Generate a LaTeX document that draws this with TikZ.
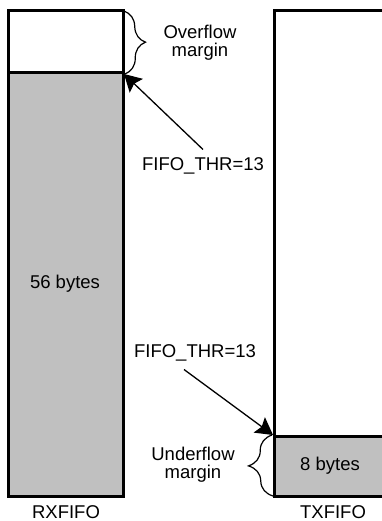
\documentclass[tikz,border=0pt]{standalone}
\usepackage{fontspec}
\setmainfont{Liberation Sans}
\usetikzlibrary{arrows.meta,decorations.pathreplacing}
\definecolor{fifogray}{RGB}{192,192,192}
\begin{document}
\begin{tikzpicture}[x=1pt,y=1pt,
  fifo/.style={draw=black,line width=3pt},
  lbl/.style={font=\fontsize{18.5}{18}\selectfont, align=center, inner sep=0pt},
  ptr/.style={line width=1.3pt,-{Stealth[length=17pt,width=19pt,inset=3pt]}},
  brc/.style={line width=1.2pt,decorate,decoration={brace,amplitude=21pt}}]
\useasboundingbox (0,0) rectangle (382,-521);
\fill[white] (0,0) rectangle (382,-521);
\begin{scope}
\clip (0,0) rectangle (382,-521);
% RXFIFO
\filldraw[fifo, fill=white] (8,-11) rectangle (123,-73);
\filldraw[fifo, fill=fifogray] (8,-73) rectangle (123,-496);
% TXFIFO
\filldraw[fifo, fill=white] (274,-11) rectangle (392,-436);
\filldraw[fifo, fill=fifogray] (274,-436) rectangle (392,-496);
\end{scope}
\coordinate (rxtop) at (123,-11);
\coordinate (rxthr) at (124,-74);
\coordinate (txthr) at (273,-435);
\coordinate (txbot) at (274,-496);

% braces
\draw[brc] ([xshift=1pt]rxtop) -- ([xshift=1pt]rxthr);
\draw[brc,decoration={amplitude=24pt}] ([xshift=-1pt]txbot) -- ([xshift=-1pt]txthr);

% labels
\node[lbl] (ovf) at (200,-43) {Overflow\\margin};
\node[lbl] (udf) at (193,-465) {Underflow\\margin};
\node[lbl] (rxdata) at (65,-284) {56 bytes};
\node[lbl] (txdata) at (330,-466) {8 bytes};
\node[lbl] (rxname) at (66,-512) {RXFIFO};
\node[lbl] (txname) at (333,-512) {TXFIFO};
\node[lbl] (thr1) at (203,-166) {FIFO\_THR=13};
\node[lbl] (thr2) at (195,-353) {FIFO\_THR=13};

% pointers
\draw[ptr] ([yshift=8pt]thr1.north) -- (rxthr);
\draw[ptr] ([xshift=-11pt,yshift=-8pt]thr2.south) -- (txthr);
\end{tikzpicture}
\end{document}
